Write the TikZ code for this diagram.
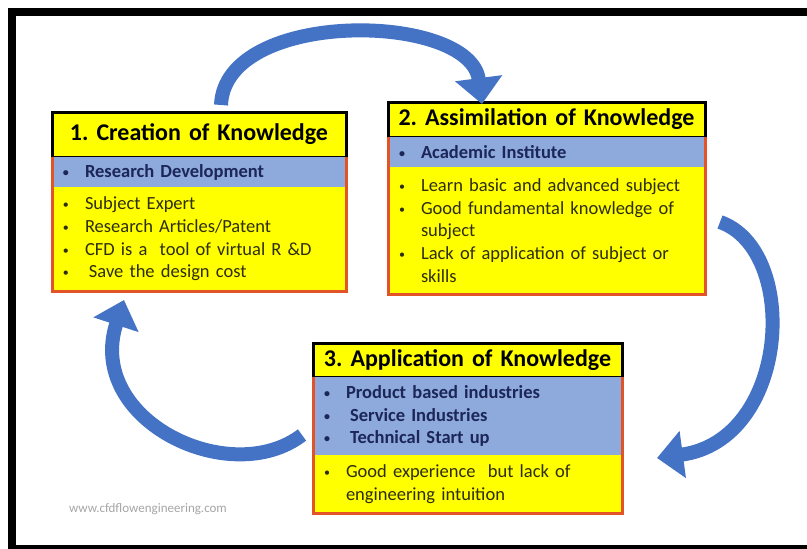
\documentclass[tikz,border=0pt]{standalone}
\usepackage{fontspec}
\setmainfont{Carlito}
\frenchspacing
\usetikzlibrary{positioning,arrows.meta}

\definecolor{bandblue}{RGB}{142,169,219}
\definecolor{boxyellow}{RGB}{255,255,0}
\definecolor{edgered}{RGB}{226,84,38}
\definecolor{arrowblue}{RGB}{68,114,196}
\definecolor{navytext}{RGB}{28,38,88}
\definecolor{itemtext}{RGB}{45,45,15}

% bullet column and the indent of a wrapped line
\newcommand{\bul}{\makebox[22pt][l]{\raisebox{1pt}{\fontsize{12}{12}\selectfont\textbullet}}}
\newcommand{\hang}{\hspace*{22pt}}

\tikzset{
  titlebox/.style={draw=black, line width=3pt, fill=boxyellow, outer sep=0pt,
    inner sep=0pt, align=center, font=\fontsize{24}{28}\selectfont\bfseries},
  bandbox/.style={fill=bandblue, outer sep=0pt, inner xsep=11pt, inner ysep=0pt,
    align=left, text=navytext, font=\fontsize{18.5}{22.7}\selectfont\bfseries},
  listbox/.style={fill=boxyellow, outer sep=0pt, inner xsep=11pt, inner ysep=0pt,
    align=left, text=itemtext, font=\fontsize{18.5}{22.7}\selectfont},
  frameline/.style={draw=edgered, line width=3pt},
  cycle arrow/.style={draw=arrowblue, line width=14pt,
    -{Triangle[width=46pt,length=26pt]}},
  webtag/.style={text=black!35, font=\fontsize{13}{15}\selectfont},
}

\begin{document}
\begin{tikzpicture}[x=1pt,y=-1pt]
    \useasboundingbox (0,0) rectangle (807,549);
    \clip (0,0) rectangle (807,549);
    \fill[white] (0,0) rectangle (807,549);
    \draw[line width=8pt] (12,12) rectangle (815,549);

    % box 1
    \node[titlebox, anchor=north west, text width=294pt, minimum height=45pt] (t1) at (52,112)
        {1. Creation of Knowledge};
    \node[bandbox, below=0pt of t1, text width=272pt, minimum height=30pt] (b1)
        {\bul Research Development};
    \node[listbox, below=0pt of b1, text width=272pt, minimum height=104pt] (l1)
        {\bul Subject Expert\\
         \bul Research Articles/Patent\\
         \bul CFD is a\ \ tool of virtual R \&D\\
         \bul\hspace{4pt}Save the design cost};

    % box 2
    \node[titlebox, anchor=north west, text width=317pt, minimum height=35pt] (t2) at (388,102)
        {2. Assimilation of Knowledge};
    \node[bandbox, below=0pt of t2, text width=295pt, minimum height=30pt] (b2)
        {\bul Academic Institute};
    \node[listbox, below=0pt of b2, text width=295pt, minimum height=127pt] (l2)
        {\bul Learn basic and advanced subject\\
         \bul Good fundamental knowledge of\\
         \hang subject\\
         \bul Lack of application of subject or\\
         \hang skills};

    % box 3
    \node[titlebox, anchor=north west, text width=309pt, minimum height=34pt] (t3) at (313,343)
        {3. Application of Knowledge};
    \node[bandbox, below=0pt of t3, text width=287pt, minimum height=78pt] (b3)
        {\bul Product based industries\\
         \bul\hspace{4pt}Service Industries\\
         \bul\hspace{4pt}Technical Start up};
    \node[listbox, below=0pt of b3, text width=287pt, minimum height=58pt] (l3)
        {\bul Good experience\ \ but lack of\\
         \hang engineering intuition};

    % red sides and bottom of each box
    \foreach \n in {1,2,3}{
        \draw[frameline] (t\n.south west) -- (l\n.south west) -- (l\n.south east) -- (t\n.south east);
    }

    % the cycle
    \draw[cycle arrow] ([shift={(169,-7)}]t1.north west)
        .. controls (225,8) and (470,12) .. ([shift={(94,2)}]t2.north west);
    \draw[cycle arrow] ([shift={(15,55)}]l2.north east)
        .. controls (800,250) and (790,440) .. ([shift={(35,3)}]l3.north east);
    \draw[cycle arrow] ([shift={(-11,19)}]b3.west)
        .. controls (230,490) and (85,420) .. ([shift={(72,9)}]l1.south west);

    \node[webtag] (web) at (148,509) {www.cfdflowengineering.com};
\end{tikzpicture}
\end{document}
